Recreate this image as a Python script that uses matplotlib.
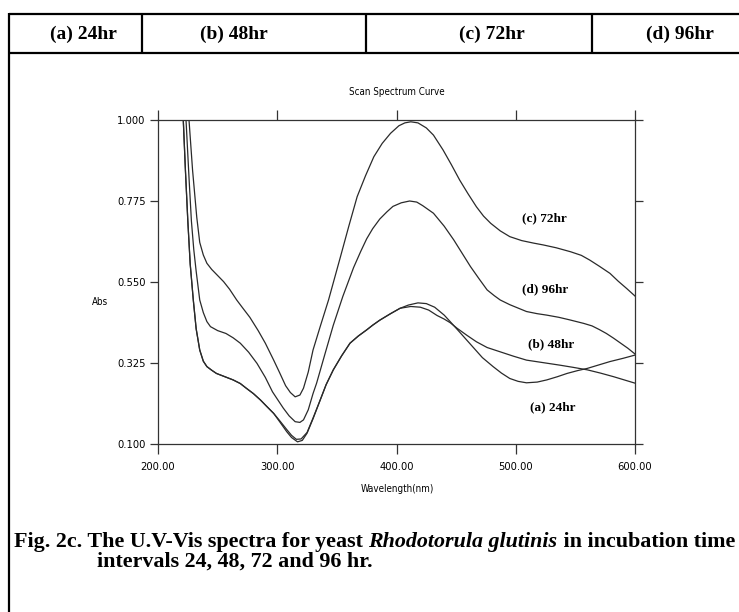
import matplotlib
matplotlib.use("Agg")
from matplotlib import pyplot as plt
from matplotlib.lines import Line2D

# UV-Vis scan of Rhodotorula glutinis at four incubation times
wl_72 = [216, 222, 226, 229, 232.5, 235, 238, 241, 245, 250, 255, 260, 266, 271, 277, 284,
         290, 297, 302, 307, 311, 315, 319, 322, 326, 330, 336, 343, 348, 353, 360, 367,
         374, 381, 388, 395, 402, 407, 412, 418, 425, 431, 439, 446, 453, 460, 467, 473,
         479, 487, 495, 505, 515, 523, 534, 546, 555, 562, 570, 579, 586, 593, 600]
abs_72 = [1.20, 1.06, 1.00, 0.86, 0.73, 0.66, 0.625, 0.602, 0.585, 0.568, 0.551, 0.530, 0.500, 0.478,
          0.452, 0.415, 0.380, 0.333, 0.298, 0.262, 0.243, 0.231, 0.236, 0.255, 0.300, 0.361, 0.426,
          0.500, 0.560, 0.620, 0.705, 0.787, 0.845, 0.898, 0.935, 0.963, 0.984, 0.992, 0.995, 0.992,
          0.978, 0.958, 0.917, 0.876, 0.833, 0.795, 0.759, 0.733, 0.713, 0.692, 0.676, 0.665, 0.658,
          0.653, 0.645, 0.634, 0.624, 0.611, 0.594, 0.574, 0.552, 0.532, 0.511]

wl_96 = [215, 220, 223.5, 226, 228, 230, 232, 235, 238, 241, 244, 250, 257, 263, 269, 276,
         283, 290, 296, 300, 305, 310, 315, 319, 322, 326, 330, 333, 340, 347, 355, 364,
         370, 375, 380, 386, 392, 397, 404, 411, 417, 422, 431, 440, 448, 455, 462, 469,
         476, 482, 487, 495, 509, 518, 526, 536, 545, 557, 564, 570, 576, 582, 588, 594, 600]
abs_96 = [1.25, 1.08, 1.00, 0.84, 0.72, 0.64, 0.58, 0.50, 0.465, 0.440, 0.426, 0.415, 0.407, 0.395,
          0.380, 0.355, 0.324, 0.285, 0.245, 0.225, 0.200, 0.178, 0.162, 0.160, 0.167, 0.195, 0.240,
          0.269, 0.350, 0.430, 0.510, 0.590, 0.635, 0.670, 0.698, 0.725, 0.745, 0.760, 0.770, 0.775,
          0.772, 0.762, 0.741, 0.705, 0.667, 0.630, 0.593, 0.560, 0.528, 0.512, 0.500, 0.487, 0.468,
          0.462, 0.458, 0.452, 0.445, 0.435, 0.428, 0.418, 0.407, 0.394, 0.380, 0.366, 0.350]

wl_24 = [214, 218, 221.2, 223, 225, 227, 229.6, 232, 235, 238, 241, 245, 249, 256, 263, 269,
         274, 280, 286, 291, 297, 302, 308, 312, 317, 321, 325, 330, 336, 341, 347, 354,
         361, 368, 375, 380, 386, 395, 403, 410, 418, 425, 432, 440, 445, 451, 458, 465,
         472, 481, 488, 495, 502, 509, 518, 526, 535, 543, 552, 560, 570, 579, 590, 600]
abs_24 = [1.30, 1.12, 1.00, 0.86, 0.72, 0.60, 0.50, 0.42, 0.361, 0.330, 0.315, 0.305, 0.296, 0.287,
          0.278, 0.268, 0.255, 0.240, 0.222, 0.205, 0.185, 0.162, 0.134, 0.118, 0.106, 0.110, 0.130,
          0.170, 0.222, 0.265, 0.306, 0.345, 0.380, 0.400, 0.417, 0.430, 0.444, 0.462, 0.477, 0.486,
          0.492, 0.490, 0.480, 0.458, 0.440, 0.418, 0.392, 0.366, 0.340, 0.315, 0.297, 0.282, 0.274,
          0.270, 0.272, 0.278, 0.287, 0.296, 0.304, 0.310, 0.320, 0.329, 0.338, 0.347]

wl_48 = [214, 218, 221.2, 223, 225, 227, 229.6, 232, 235, 238, 241, 245, 249, 256, 263, 269,
         274, 280, 286, 291, 297, 302, 308, 312, 316, 320, 325, 330, 336, 341, 347, 354,
         361, 368, 375, 380, 386, 395, 403, 412, 420, 427, 434, 440, 445, 451, 459, 467,
         476, 487, 498, 509, 523, 537, 548, 560, 571, 582, 591, 600]
abs_48 = [1.30, 1.12, 1.00, 0.86, 0.72, 0.60, 0.50, 0.42, 0.361, 0.330, 0.315, 0.305, 0.296, 0.287,
          0.278, 0.268, 0.255, 0.240, 0.222, 0.205, 0.185, 0.165, 0.140, 0.124, 0.113, 0.114, 0.132,
          0.172, 0.222, 0.265, 0.306, 0.345, 0.380, 0.400, 0.417, 0.430, 0.444, 0.462, 0.477, 0.482,
          0.480, 0.472, 0.457, 0.447, 0.437, 0.421, 0.402, 0.384, 0.368, 0.356, 0.344, 0.333, 0.326,
          0.319, 0.313, 0.306, 0.297, 0.287, 0.278, 0.269]

curve_labels = ["(c) 72hr", "(d) 96hr", "(b) 48hr", "(a) 24hr"]
label_pos = [(524, 0.728), (525, 0.531), (530, 0.378), (531, 0.203)]

header_labels = ["(a) 24hr", "(b) 48hr", "(c) 72hr", "(d) 96hr"]
x_ticks = [200, 300, 400, 500, 600]
y_ticks = [0.100, 0.325, 0.550, 0.775, 1.000]

W, H = 739, 612
fig = plt.figure(figsize=(W / 100, H / 100), dpi=100)

narrow = dict(family=["Liberation Sans Narrow", "DejaVu Sans"], stretch="condensed")
serif = ["Liberation Serif", "DejaVu Serif"]

# page frame: table header row and left rule
frame = fig.add_axes([0, 0, 1, 1])
frame.set_xlim(0, W)
frame.set_ylim(H, 0)
frame.axis("off")
for seg in [((9, W), (14, 14)), ((9, W), (53, 53)), ((9, 9), (13, H)),
            ((142, 142), (14, 53)), ((366, 366), (14, 53)), ((592, 592), (14, 53))]:
    frame.add_line(Line2D(seg[0], seg[1], color="black", lw=1.6, solid_capstyle="butt"))
for txt, cx in zip(header_labels, [83, 234, 492, 680]):
    frame.text(cx, 34, txt, ha="center", va="center", fontsize=14, fontweight="bold",
               family=serif)

# spectrum plot
ax = fig.add_axes([158 / W, 1 - 444 / H, (635 - 158) / W, (444 - 120) / H])
for wl, ab in [(wl_72, abs_72), (wl_96, abs_96), (wl_24, abs_24), (wl_48, abs_48)]:
    ax.plot(wl, ab, color="#2a2a2a", lw=0.9)
ax.set_xlim(200, 600)
ax.set_ylim(0.1, 1.0)
ax.set_xticks(x_ticks)
ax.set_xticklabels([f"{t:.2f}" for t in x_ticks], fontsize=8, **narrow)
ax.set_yticks(y_ticks)
ax.set_yticklabels([f"{t:.3f}" for t in y_ticks], fontsize=8, **narrow)
ax.tick_params(axis="x", direction="out", length=7, width=0.9, pad=6, top=True,
               color="#333333")
ax.tick_params(axis="y", direction="out", length=6, width=0.9, pad=3, right=True,
               color="#333333")
for sp in ax.spines.values():
    sp.set_color("#333333")
    sp.set_linewidth(0.9)

for txt, (x, y) in zip(curve_labels, label_pos):
    ax.text(x, y, txt, ha="center", va="center", fontsize=9.5, fontweight="bold", family=serif)

fig.text(397 / W, 1 - 92 / H, "Scan Spectrum Curve", ha="center", va="center",
         fontsize=7, **narrow)
fig.text(100 / W, 1 - 302 / H, "Abs", ha="center", va="center", fontsize=7, **narrow)
fig.text(397 / W, 1 - 489 / H, "Wavelength(nm)", ha="center", va="center", fontsize=7,
         **narrow)

# caption, with the species name set in italics
renderer = fig.canvas.get_renderer()
pieces = [("Fig. 2c. The U.V-Vis spectra for yeast ", "normal"),
          ("Rhodotorula glutinis", "italic"),
          (" in incubation time", "normal")]
x = 14
for txt, style in pieces:
    t = frame.text(x, 542, txt, ha="left", va="center", fontsize=15.8, fontweight="bold",
                   style=style, family=serif)
    bb = t.get_window_extent(renderer)
    x += bb.width
frame.text(97, 562, "intervals 24, 48, 72 and 96 hr.", ha="left", va="center", fontsize=15.8,
           fontweight="bold", family=serif)

fig.savefig("out.png", dpi=100)
